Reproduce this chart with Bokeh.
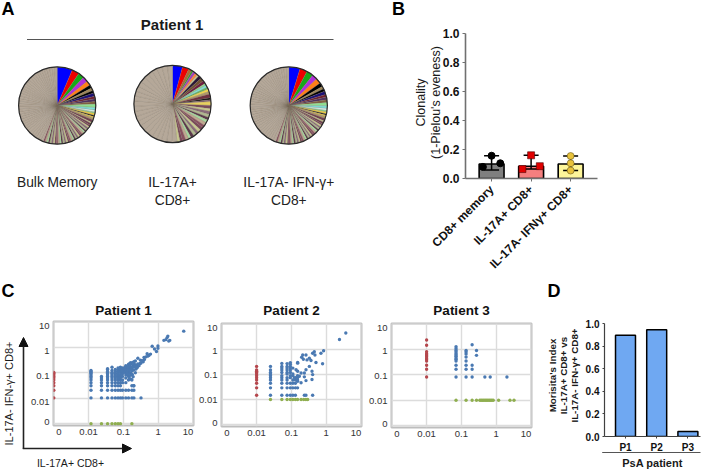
import numpy as np
from bokeh.embed import file_html
from bokeh.resources import INLINE
from bokeh.plotting import figure
from bokeh.layouts import column, row
from bokeh.models import Range1d, FixedTicker, Arrow, NormalHead
from bokeh.core.properties import value

FONT = "Liberation Sans"

# ---------- Panel A: clone shares (percent) ----------
pie1_head = [6.4, 3.06, 2.5, 2.2, 1.95, 1.4, 1.1, 1.1, 1.4, 1.1, 1.1, 1.1, 1.4, 1.1, .83, .56, .83, .56, .56, .83, 1.1, .56, .83]
pie1_mid = [.7, .65, .75, .7, .6, .7, .8, .65, .7, .75, .7, .6, .7, .7, .8, .65, .7, .75, .65, .7, .7, .75, .7, .65, .7, .7, .75, .7, .65, .7, .7, .7]
pie1_tail = [1.1, 1.1, 1.2, 1.0, 1.1, 1.1, 1.2, 1.1, 1.0, 1.1, 1.1, 1.2, 1.1, 1.0, 1.1, 1.1, 1.2, 1.1, 1.0, 1.1, 1.1, 1.2, 1.1, 1.0, 1.1, 1.1, 1.2, 1.1, 1.0, 1.1, 1.1, 1.2, 1.1, 1.0, 1.1, 1.1, 1.2, 1.1, 1.0, 1.1]
pie1_colors = ["#0000ff", "#ee0000", "#18a818", "#b030d8", "#ff8018", "#000000", "#a08858", "#000000", "#1c1078", "#702030", "#503060", "#806040", "#90e090", "#80e0d8", "#d8f4f0", "#90e090", "#f0d040", "#181818", "#f0d040", "#b09868", "#704050", "#c8c890", "#704050"]

pie2_head = [4.4, 2.8, 1.4, .83, 1.1, 1.1, .83, 1.4, 1.4, 1.4, .83, 1.1, .83, 1.1, 1.1, 1.66, .83, .83, 1.66]
pie2_mid = [1.4, 1.2, 1.3, 1.4, 1.2, 1.3, 1.4, 1.2, 1.3, 1.4, 1.2, 1.3, 1.4, 1.2, 1.3, 1.4, 1.2, 1.3]
pie2_tail = [2.3, 2.2, 2.4, 2.1, 2.2, 2.3, 2.2, 2.4, 2.2, 2.1, 2.3, 2.2, 2.4, 2.2, 2.1, 2.3, 2.2, 2.4, 2.2, 2.1, 2.3, 2.2, 2.4, 2.2]
pie2_colors = ["#0000ff", "#ee0000", "#b06a30", "#3a9a30", "#a040c0", "#ff8040", "#c8c890", "#281838", "#705030", "#702040", "#90e090", "#80e0d8", "#60c060", "#f0d850", "#b09868", "#703040", "#101010", "#806070", "#e8d060"]

pie3_head = [4.7, 3.06, 2.8, 2.2, 2.2, 1.66, 1.1, 1.1, 1.4, 1.1, 1.1, 1.1, 1.4, 1.1, .83, .56, .83, .56, .56, .83, 1.1, .56, .83]
pie3_mid = [.7, .75, .65, .7, .7, .8, .65, .7, .75, .7, .6, .7, .7, .8, .65, .7, .75, .65, .7, .7, .75, .7, .65, .7, .7, .75, .7, .65, .7, .7, .7, .7]
pie3_tail = [1.2, 1.1, 1.1, 1.0, 1.2, 1.1, 1.1, 1.0, 1.1, 1.2, 1.1, 1.1, 1.0, 1.2, 1.1, 1.1, 1.0, 1.1, 1.2, 1.1, 1.1, 1.0, 1.2, 1.1, 1.1, 1.0, 1.1, 1.2, 1.1, 1.1, 1.0, 1.2, 1.1, 1.1, 1.0, 1.1, 1.2, 1.1, 1.1, 1.0]
pie3_colors = ["#0000ff", "#ee0000", "#18a818", "#b030d8", "#ff8018", "#000000", "#a08858", "#000000", "#1c1078", "#702030", "#503060", "#806040", "#90e090", "#80e0d8", "#d8f4f0", "#90e090", "#f0d040", "#181818", "#f0d040", "#b09868", "#704050", "#c8c890", "#704050"]

mid_colors = ["#7a4a5a", "#c8c890", "#8a6a7a", "#b0b890", "#5a3a4a", "#a8d8a0", "#c0a890", "#8a5060"]
tail_color = "#b5a899"
pie_labels = [["Bulk Memory"], ["IL-17A+", "CD8+"], ["IL-17A- IFN-γ+", "CD8+"]]
pie_centers = [(56.7, 105), (172, 103.5), (288.3, 105)]

# ---------- Panel B ----------
b_cats = ["CD8+ memory", "IL-17A+ CD8+", "IL-17A- IFNγ+ CD8+"]
b_bars = [0.10, 0.085, 0.10]
b_low = [0.058, 0.065, 0.055]
b_high = [0.157, 0.16, 0.155]
b_fill = ["#7f7f7f", "#f47f7f", "#fdf59a"]
b_mem_x, b_mem_y = [0, -0.22, 0.22], [0.157, 0.08, 0.105]
b_a_x, b_a_y = [0, -0.22, 0.22], [0.16, 0.065, 0.085]
b_g_x, b_g_y = [0, 0, 0], [0.155, 0.105, 0.055]
b_ticks = [0.0, 0.2, 0.4, 0.6, 0.8, 1.0]

# ---------- Panel C ----------
p1_col_x = [.0117, .0234, .035, .047, .0585, .07, .082, .094, .117, .14, .175, .2]
p1_col_y = [
    [.0103, .0206, .031, .041, .052, .062, .072, .082, .093, .103, .113, .124],
    [.0103, .0206, .031, .041, .052, .062, .072],
    [.0103, .0206, .031, .041, .052, .062, .072, .082, .093, .103, .113, .134, .144],
    [.0103, .0206, .031, .041, .052, .062, .072, .082, .093, .103, .124, .165],
    [.0103, .0206, .031, .041, .052, .062, .072, .082, .093, .113, .134],
    [.0103, .0206, .031, .041, .052, .062, .072, .082, .093, .103, .113, .124, .155],
    [.0103, .0206, .031, .041, .052, .062, .072, .082, .103, .124, .144, .165],
    [.0103, .0206, .041, .052, .072, .093, .113, .134, .155],
    [.0103, .0206, .041, .062, .082, .103, .134, .165, .19],
    [.0103, .0206, .052, .072, .093, .113, .144, .175, .21],
    [.0103, .0206, .031, .052],
    [.0103, .0206, .031],
]
p1_cloud = [(.32, .0103), (.197, .031), (5.4, 4.3), (2.15, 1.87), (1.89, 2.75), (1.8, 2.4), (1.45, 1.87), (1.65, 2.0), (2.0, 1.75),
            (.98, 1.12), (.98, .91), (.89, .68), (.67, 1.1), (.78, .86), (.6, .54), (.54, .48), (.48, .56), (.44, .42), (.39, .4),
            (.31, .31), (.26, .37), (.3, .23), (.22, .29), (.2, .27), (.18, .25), (.16, .25), (.145, .22),
            (.1, .1), (.11, .12), (.12, .13), (.13, .11), (.14, .15), (.15, .13), (.16, .17), (.17, .14), (.18, .16), (.19, .19),
            (.2, .17), (.21, .21), (.22, .18), (.24, .2), (.26, .22), (.15, .2), (.17, .22), (.19, .24), (.13, .17), (.11, .16),
            (.1, .14), (.09, .12), (.16, .1), (.18, .12), (.2, .13), (.23, .14), (.25, .16), (.28, .19), (.32, .24), (.35, .3),
            (.16, .08), (.18, .085), (.19, .07), (.22, .1), (.13, .085), (.15, .06), (.17, .055), (.4, .33), (.37, .27), (.5, .45)]
p1_red_x = [.001] * 10
p1_red_y = [.0103, .0206, .031, .041, .052, .062, .072, .082, .093, .103]
p1_green_x = [.0117, .0234, .035, .047, .0585, .07, .082, .175]
p1_green_y = [.001] * 8

p2_col_x = [.025, .053, .075, .093, .11, .13, .15]
p2_col_y = [
    [.0147, .029, .044, .059, .0735, .088, .103, .118, .147, .205],
    [.0147, .029, .044, .059, .0735, .088, .118, .147, .176, .205, .27],
    [.0147, .029, .044, .059, .0735, .103, .118, .147, .176, .205, .265],
    [.0147, .029, .044, .0735, .088, .118, .147, .176, .205, .25, .29],
    [.0147, .029, .044, .059, .088, .103, .176],
    [.0147, .029, .044, .059, .0735],
    [.029, .059, .0735, .088],
]
p2_cloud = [(.151, .294), (.151, .276), (.197, .473), (.211, .583), (.22, .395), (.262, .583), (.28, .372), (.327, .432),
            (.365, .35), (.407, .678), (.454, .787), (.474, .583), (.507, .294), (.705, .678), (.84, .86), (.785, .26),
            (.327, .205), (.262, .152), (.235, .113), (.39, .131), (.407, .097), (.39, .062), (.262, .056), (.235, .079),
            (.189, .113), (.169, .083), (.151, .131), (.136, .152), (.122, .072), (.189, .046), (.151, .053), (.235, .0147),
            (.262, .0147), (.407, .0147), (2.4, 2.38), (3.65, 4.32)]
p2_red_x = [.01] * 11
p2_red_y = [.0147, .029, .044, .059, .0735, .088, .103, .118, .132, .147, .205]
p2_green_x = [.025, .053, .075, .093, .11, .13, .15, .189, .225, .26, .293]
p2_green_y = [.01] * 11

p3_col_x = [.07, .136, .203, .271]
p3_col_y = [
    [.082, .164, .236, .348, .406, .457, .531, .6, .676, .78, .9, 1.05, 1.26],
    [.082, .164, .236, .348, .5, .66, .78, .9],
    [.082, .164, .236, 1.51],
    [.58, .9],
]
p3_cloud = [(.471, .082), (.671, .082), (2.03, .082)]
p3_red_x = [.01] * 12
p3_red_y = [.082, .164, .236, .348, .406, .457, .531, .6, .676, .81, 1.44, 2.32]
p3_green_x = [.07, .136, .203, .271, .338, .369, .404, .441, .482, .526, .575, .629, .687, .75, .819, 1.17, 2.48, 3.24]
p3_green_y = [.01] * 18

c_tick_values = [.001, .01, .1, 1, 10]
c_tick_labels = ["0", "0.01", "0.1", "1", "10"]

# ---------- Panel D ----------
d_cats = ["P1", "P2", "P3"]
d_vals = [0.895, 0.945, 0.045]
d_ticks = [0.0, 0.2, 0.4, 0.6, 0.8, 1.0]

# ---------- Free texts (page-level annotations) ----------
free_texts = [
    ("A", 7.5, 8.5, 18, True, 0), ("B", 398, 8.5, 18, True, 0), ("C", 7.5, 290, 18, True, 0), ("D", 553.5, 290, 18, True, 0),
    ("Patient 1", 171.6, 24, 15, True, 0),
    ("Clonality", 420.7, 102, 12.5, False, 90), ("(1-Pielou's eveness)", 435, 102, 12.5, False, 90),
    ("Morisita's Index", 551.7, 375, 9.8, True, 90), ("IL-17A+ CD8+ vs", 563, 375, 9.8, True, 90),
    ("IL-17A- IFN-γ+ CD8+", 574, 375, 9.8, True, 90),
    ("PsA patient", 652, 462, 11, True, 0),
    ("IL-17A- IFN-γ+ CD8+", 8, 393, 11, False, 90), ("IL-17A+ CD8+", 70, 462.5, 10.5, False, 0),
]

# ================= Page overlay =================
ov = figure(width=709, height=469, x_range=Range1d(0, 709), y_range=Range1d(-469, 0), toolbar_location=None,
            output_backend="svg", min_border=0, outline_line_color=None, x_axis_location=None, y_axis_location=None,
            frame_align=False, background_fill_color=None, border_fill_color=None,
            styles={"position": "absolute", "left": "0px", "top": "0px", "z-index": "5"})
ov.grid.visible = False
for s, x, y, size, bold, ang in free_texts:
    ov.text(x=[x], y=[-y], text=[s], text_font=value(FONT), text_font_size=value(f"{size}px"),
            text_font_style="bold" if bold else "normal", text_color="#000000" if len(s) == 1 else "#1a1a1a",
            text_align="center", text_baseline="middle", angle=np.radians(ang))
ov.line(x=[601.7, 700], y=[-452, -452], line_color="#555555", line_width=1)
ov.add_layout(Arrow(end=NormalHead(size=9, fill_color="#111111", line_color="#111111"), x_start=23, y_start=-448.5,
                    x_end=23, y_end=-337, line_color="#222222", line_width=1.6))
ov.add_layout(Arrow(end=NormalHead(size=9, fill_color="#111111", line_color="#111111"), x_start=22.3, y_start=-448,
                    x_end=131, y_end=-448, line_color="#222222", line_width=1.6))

# ================= Panel A =================
WA, HA = 372, 280
pa = figure(width=WA, height=HA, x_range=Range1d(0, WA), y_range=Range1d(-HA, 0), toolbar_location=None,
            output_backend="svg", min_border=0, outline_line_color=None, x_axis_location=None, y_axis_location=None,
            frame_align=False)
pa.grid.visible = False
for (cx, cy), h, m, t, hc in zip(pie_centers, [pie1_head, pie2_head, pie3_head], [pie1_mid, pie2_mid, pie3_mid],
                                 [pie1_tail, pie2_tail, pie3_tail], [pie1_colors, pie2_colors, pie3_colors]):
    vals = np.array(h + m + t, dtype=float)
    colors = hc + [mid_colors[i % len(mid_colors)] for i in range(len(m))] + [tail_color] * len(t)
    frac = vals / vals.sum() * 2 * np.pi
    stops = np.cumsum(frac)
    start = np.pi / 2 - stops
    end = start + frac
    pa.wedge(x=cx, y=-cy, radius=38.6, start_angle=start.tolist(), end_angle=end.tolist(), direction="anticlock",
             fill_color=colors, line_color="#77695a", line_width=0.25)
    pa.circle(x=[cx], y=[-cy], radius=38.6, fill_color=None, line_color="#2a2a2a", line_width=1.2)
pa.line(x=[26.5, 333], y=[-39, -39], line_color="#555555", line_width=1)
for (cx, cy), lines in zip(pie_centers, pie_labels):
    for i, s in enumerate(lines):
        pa.text(x=[cx], y=[-(182 + i * 18)], text=[s], text_font=value(FONT), text_font_size=value("13.8px"),
                text_color="#222222", text_align="center", text_baseline="middle")

# ================= Panel B =================
pb = figure(width=337, height=HA, x_range=Range1d(-0.66, 2.68), y_range=Range1d(0, 1.0), toolbar_location=None,
            output_backend="svg", min_border_left=93, min_border_right=112, min_border_top=33, min_border_bottom=102,
            outline_line_color=None, frame_align=False)
pb.grid.visible = False
xs = [0, 1, 2]
pb.vbar(x=xs, top=b_bars, width=0.63, fill_color=b_fill, line_color="#000000", line_width=1.6)
pb.segment(x0=xs, y0=b_low, x1=xs, y1=b_high, line_color="#000000", line_width=1.5)
for lim in (b_low, b_high):
    pb.segment(x0=[x - 0.19 for x in xs], y0=lim, x1=[x + 0.19 for x in xs], y1=lim, line_color="#000000", line_width=1.5)
pb.scatter(b_mem_x, b_mem_y, marker="circle", size=7, fill_color="#000000", line_color="#000000")
pb.scatter([x + 1 for x in b_a_x], b_a_y, marker="square", size=7, fill_color="#e00000", line_color="#500000", line_width=0.6)
pb.scatter([x + 2 for x in b_g_x], b_g_y, marker="circle", size=7, fill_color="#e8c23c", line_color="#6a5a20", line_width=0.6)
pb.yaxis.ticker = FixedTicker(ticks=b_ticks)
pb.yaxis.major_label_overrides = {t: f"{t:.1f}" for t in b_ticks}
pb.yaxis.major_label_text_font = FONT
pb.yaxis.major_label_text_font_size = "12px"
pb.yaxis.major_label_text_font_style = "bold"
pb.yaxis.major_label_text_color = "#111111"
pb.yaxis.major_label_standoff = 3
pb.xaxis.ticker = FixedTicker(ticks=xs)
pb.xaxis.major_label_overrides = dict(zip(xs, b_cats))
pb.xaxis.major_label_orientation = np.pi / 4
pb.xaxis.major_label_text_font = FONT
pb.xaxis.major_label_text_font_size = "12px"
pb.xaxis.major_label_text_font_style = "bold"
pb.xaxis.major_label_text_color = "#111111"
pb.xaxis.major_label_standoff = 6
for ax in (pb.xaxis, pb.yaxis):
    ax.axis_line_color = "#707070"
    ax.axis_line_width = 1.6
    ax.major_tick_line_color = "#707070"
    ax.major_tick_line_width = 1
    ax.major_tick_in = 0
    ax.major_tick_out = 3
    ax.minor_tick_line_color = None


# ================= Panel C =================
def scatter_panel(title, width, left, right, top, bottom, yr_low, col_x, col_y, cloud, rx, ry, gx, gy, x_pos, y_pos, standoff):
    p = figure(width=width, height=189, x_axis_type="log", y_axis_type="log",
               x_range=Range1d(0.00098, 10.3), y_range=Range1d(yr_low, 10.3), toolbar_location=None,
               output_backend="svg", min_border_left=left, min_border_right=right, min_border_top=top,
               min_border_bottom=bottom, outline_line_color="#bdbdbd", outline_line_width=2, frame_align=False)
    p.title.text = title
    p.title.align = "center"
    p.title.text_font = FONT
    p.title.text_font_size = "13.5px"
    p.title.text_font_style = "bold"
    p.title.text_color = "#111111"
    p.title.standoff = standoff
    bx = [x for x, ys in zip(col_x, col_y) for _ in ys] + [c[0] for c in cloud]
    by = [y for ys in col_y for y in ys] + [c[1] for c in cloud]
    p.scatter(bx, by, marker="circle", size=3.4, fill_color="#4a79b2", line_color=None)
    p.scatter(rx, ry, marker="circle", size=3.4, fill_color="#b5474d", line_color=None)
    p.scatter(gx, gy, marker="circle", size=3.4, fill_color="#8fae4f", line_color=None)
    p.xgrid.ticker = FixedTicker(ticks=c_tick_values)
    p.ygrid.ticker = FixedTicker(ticks=c_tick_values)
    p.grid.grid_line_color = "#dcdcdc"
    p.grid.grid_line_width = 1.4
    p.xaxis.ticker = FixedTicker(ticks=x_pos)
    p.yaxis.ticker = FixedTicker(ticks=y_pos)
    p.xaxis.major_label_overrides = dict(zip(x_pos, c_tick_labels))
    p.yaxis.major_label_overrides = dict(zip(y_pos, c_tick_labels))
    p.xaxis.major_label_standoff = 3
    p.yaxis.major_label_standoff = 4
    for ax in (p.xaxis, p.yaxis):
        ax.axis_line_color = None
        ax.major_tick_line_color = None
        ax.minor_tick_line_color = None
        ax.major_tick_out = 0
        ax.major_tick_in = 0
        ax.major_label_text_font = FONT
        ax.major_label_text_font_size = "9.5px"
        ax.major_label_text_color = "#333333"
    return p


# label anchors: the reference prints its tick labels a little off the grid lines
x_pos_c = [.0014, .01, .1, 1, 7.2]
y_pos_p1 = [.0012, .0073, .073, .73, 7.0]
y_pos_p23 = [.0012, .0092, .092, .82, 7.0]
c1 = scatter_panel("Patient 1", 196, 53, 3, 41, 44, 0.00085, p1_col_x, p1_col_y, p1_cloud,
                   p1_red_x, p1_red_y, p1_green_x, p1_green_y, x_pos_c, y_pos_p1, 8)
c2 = scatter_panel("Patient 2", 169, 25, 4, 43, 43, 0.00085, p2_col_x, p2_col_y, p2_cloud,
                   p2_red_x, p2_red_y, p2_green_x, p2_green_y, x_pos_c, y_pos_p23, 12)
c3 = scatter_panel("Patient 3", 170, 26, 4, 43, 42, 0.00085, p3_col_x, p3_col_y, p3_cloud,
                   p3_red_x, p3_red_y, p3_green_x, p3_green_y, x_pos_c, y_pos_p23, 12)

# ================= Panel D =================
pd_ = figure(width=174, height=189, x_range=Range1d(-0.673, 2.404), y_range=Range1d(0, 1.0), toolbar_location=None,
             output_backend="svg", min_border_left=69, min_border_right=9, min_border_top=43, min_border_bottom=33,
             outline_line_color=None, frame_align=False)
pd_.grid.visible = False
dx = [0, 1, 2]
pd_.vbar(x=dx, top=d_vals, width=0.64, fill_color="#6fa8f2", line_color="#000000", line_width=1.5)
pd_.yaxis.ticker = FixedTicker(ticks=d_ticks)
pd_.yaxis.major_label_overrides = {t: f"{t:.1f}" for t in d_ticks}
pd_.xaxis.ticker = FixedTicker(ticks=dx)
pd_.xaxis.major_label_overrides = dict(zip(dx, d_cats))
for ax in (pd_.xaxis, pd_.yaxis):
    ax.axis_line_color = "#404040"
    ax.axis_line_width = 1.2
    ax.major_tick_line_color = "#404040"
    ax.major_tick_in = 0
    ax.major_tick_out = 2
    ax.minor_tick_line_color = None
    ax.major_label_text_font = FONT
    ax.major_label_text_font_size = "10px"
    ax.major_label_text_font_style = "bold"
    ax.major_label_text_color = "#111111"
    ax.major_label_standoff = 3

top_row = row(pa, pb, spacing=0)
bot_row = row(c1, c2, c3, pd_, spacing=0)
root = column(ov, top_row, bot_row, spacing=0)
open("out.html", "w").write(file_html(root, INLINE))
